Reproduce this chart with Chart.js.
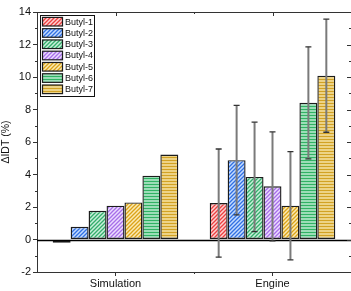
<!DOCTYPE html>
<html>
<head>
<meta charset="utf-8">
<script src="https://cdn.jsdelivr.net/npm/chart.js@4"></script>
<style>
  html, body { margin: 0; padding: 0; background: #fff; }
  canvas { display: block; }
</style>
</head>
<body>
<canvas id="myChart" width="351" height="291"></canvas>
<script>
// chart data
const categories = ['Simulation', 'Engine'];
const seriesNames = ['Butyl-1', 'Butyl-2', 'Butyl-3', 'Butyl-4', 'Butyl-5', 'Butyl-6', 'Butyl-7'];
const butyl1 = [-0.2, 2.24];
const butyl2 = [0.78, 4.88];
const butyl3 = [1.77, 3.85];
const butyl4 = [2.08, 3.27];
const butyl5 = [2.28, 2.08];
const butyl6 = [3.93, 8.41];
const butyl7 = [5.23, 10.08];
// error bar half-widths (only the engine group has them)
const err1 = [null, 3.33];
const err2 = [null, 3.37];
const err3 = [null, 3.37];
const err4 = [null, 3.35];
const err5 = [null, 3.33];
const err6 = [null, 3.45];
const err7 = [null, 3.48];
const yTicks = [-2, 0, 2, 4, 6, 8, 10, 12, 14];

const seriesValues = [butyl1, butyl2, butyl3, butyl4, butyl5, butyl6, butyl7];
const seriesErrors = [err1, err2, err3, err4, err5, err6, err7];

function makePattern(bg, fg, kind) {
    const c = document.createElement('canvas');
    c.width = 4;
    c.height = kind === 'diag' ? 4 : 3;
    const g = c.getContext('2d');
    g.fillStyle = bg;
    g.fillRect(0, 0, c.width, c.height);
    g.strokeStyle = fg;
    g.lineWidth = 1.3;
    g.beginPath();
    if (kind === 'diag') {
        g.moveTo(-1, 5); g.lineTo(5, -1);
        g.moveTo(-1, 1); g.lineTo(1, -1);
        g.moveTo(3, 5); g.lineTo(5, 3);
    } else {
        g.moveTo(0, 1.5); g.lineTo(4, 1.5);
    }
    g.stroke();
    return g.createPattern(c, 'repeat');
}

const fills = [
    makePattern('#ffd2d2', '#ec4040', 'diag'),
    makePattern('#c4dcff', '#3170e2', 'diag'),
    makePattern('#c9f0da', '#34ad6c', 'diag'),
    makePattern('#ecdcff', '#a66ee8', 'diag'),
    makePattern('#fbeab4', '#dba318', 'diag'),
    makePattern('#aee4c6', '#30b263', 'horiz'),
    makePattern('#f2dc98', '#d2a224', 'horiz')
];

const datasets = seriesNames.map(function (name, i) {
    return {
        label: name,
        data: seriesValues[i],
        backgroundColor: fills[i],
        borderColor: '#1c1c1c',
        borderWidth: 1.4,
        borderSkipped: false,
        categoryPercentage: 0.8,
        barPercentage: 1.0
    };
});

// zero line, error bars, minor ticks, mirrored axes, legend
const extras = {
    id: 'extras',
    afterDatasetsDraw(chart) {
        const ctx = chart.ctx;
        const xs = chart.scales.x;
        const ys = chart.scales.y;
        const area = chart.chartArea;
        ctx.save();

        // zero line
        const y0 = Math.round(ys.getPixelForValue(0)) + 0.5;
        ctx.strokeStyle = '#000';
        ctx.lineWidth = 1.3;
        ctx.beginPath();
        ctx.moveTo(area.left, y0);
        ctx.lineTo(area.right, y0);
        ctx.stroke();

        // error bars
        chart.data.datasets.forEach(function (ds, i) {
            const meta = chart.getDatasetMeta(i);
            seriesErrors[i].forEach(function (e, j) {
                if (e == null) return;
                const v = ds.data[j];
                const x = meta.data[j].x;
                const yt = ys.getPixelForValue(v + e);
                const yb = ys.getPixelForValue(v - e);
                ctx.strokeStyle = '#7a7a7a';
                ctx.lineWidth = 2;
                ctx.beginPath();
                ctx.moveTo(x, yt);
                ctx.lineTo(x, yb);
                ctx.stroke();
                ctx.strokeStyle = '#333';
                ctx.lineWidth = 1.3;
                ctx.beginPath();
                ctx.moveTo(x - 3, yt); ctx.lineTo(x + 3, yt);
                ctx.moveTo(x - 3, yb); ctx.lineTo(x + 3, yb);
                ctx.stroke();
            });
        });

        // frame top (right edge line falls just outside the canvas)
        ctx.strokeStyle = '#333';
        ctx.lineWidth = 1;
        ctx.beginPath();
        ctx.moveTo(area.left, area.top + 0.5);
        ctx.lineTo(area.right, area.top + 0.5);
        ctx.stroke();

        // y minor ticks (left, outward) and right ticks (inward)
        ctx.beginPath();
        for (let v = ys.min; v <= ys.max; v += 1) {
            const py = Math.round(ys.getPixelForValue(v)) + 0.5;
            const major = v % 2 === 0;
            if (!major) {
                ctx.moveTo(area.left - 2, py); ctx.lineTo(area.left, py);
            }
            ctx.moveTo(area.right, py); ctx.lineTo(area.right - (major ? 4 : 2), py);
        }
        // x ticks: minor between categories, top mirrored ticks inward
        for (let k = 0; k < categories.length; k++) {
            const px = Math.round(xs.getPixelForValue(k)) + 0.5;
            ctx.moveTo(px, area.top); ctx.lineTo(px, area.top + 4);
            if (k > 0) {
                const mx = Math.round((xs.getPixelForValue(k) + xs.getPixelForValue(k - 1)) / 2) + 0.5;
                ctx.moveTo(mx, area.bottom); ctx.lineTo(mx, area.bottom + 2);
                ctx.moveTo(mx, area.top); ctx.lineTo(mx, area.top + 2);
            }
        }
        ctx.stroke();

        // legend box
        const lx = 40, ly = 15, lw = 54, lh = 81, row = 11.27;
        ctx.fillStyle = '#fff';
        ctx.fillRect(lx, ly, lw, lh);
        ctx.strokeStyle = '#111';
        ctx.lineWidth = 1;
        ctx.strokeRect(lx + 0.5, ly + 0.5, lw, lh);
        ctx.font = '9px "Liberation Sans", Arial, sans-serif';
        ctx.textBaseline = 'middle';
        chart.data.datasets.forEach(function (ds, i) {
            const cy = ly + 6.7 + i * row;
            ctx.fillStyle = ds.backgroundColor;
            ctx.fillRect(42.5, cy - 4.3, 20, 8.6);
            ctx.strokeStyle = '#1c1c1c';
            ctx.lineWidth = 1.2;
            ctx.strokeRect(42.5, cy - 4.3, 20, 8.6);
            ctx.fillStyle = '#111';
            ctx.fillText(ds.label, 65, cy + 0.5);
        });

        ctx.restore();
    }
};

const ctx = document.getElementById('myChart').getContext('2d');
const myChart = new Chart(ctx, {
    type: 'bar',
    data: {
        labels: categories,
        datasets: datasets
    },
    options: {
        responsive: false,
        animation: false,
        events: [],
        layout: { padding: { top: 12, right: 0, left: 0, bottom: 0 } },
        plugins: {
            legend: { display: false },
            tooltip: { enabled: false }
        },
        scales: {
            x: {
                offset: true,
                grid: {
                    offset: false,
                    drawOnChartArea: false,
                    tickLength: 4,
                    tickColor: '#333',
                    tickWidth: 1
                },
                border: { color: '#333', width: 1 },
                ticks: {
                    color: '#111',
                    padding: 1,
                    font: { family: '"Liberation Sans", Arial, sans-serif', size: 11 }
                },
                afterFit: function (scale) { scale.height = 19; }
            },
            y: {
                min: yTicks[0],
                max: yTicks[yTicks.length - 1],
                afterBuildTicks: function (scale) {
                    scale.ticks = yTicks.map(function (v) { return { value: v }; });
                },
                grid: {
                    drawOnChartArea: false,
                    tickLength: 4,
                    tickColor: '#333',
                    tickWidth: 1
                },
                border: { color: '#333', width: 1 },
                ticks: {
                    color: '#111',
                    padding: 2,
                    font: { family: '"Liberation Sans", Arial, sans-serif', size: 11 }
                },
                title: {
                    display: true,
                    text: 'ΔIDT (%)',
                    color: '#111',
                    padding: { top: 0, bottom: 0 },
                    font: { family: '"Liberation Sans", Arial, sans-serif', size: 10.5 }
                },
                afterFit: function (scale) { scale.width = 37; }
            }
        }
    },
    plugins: [extras]
});
</script>
</body>
</html>
